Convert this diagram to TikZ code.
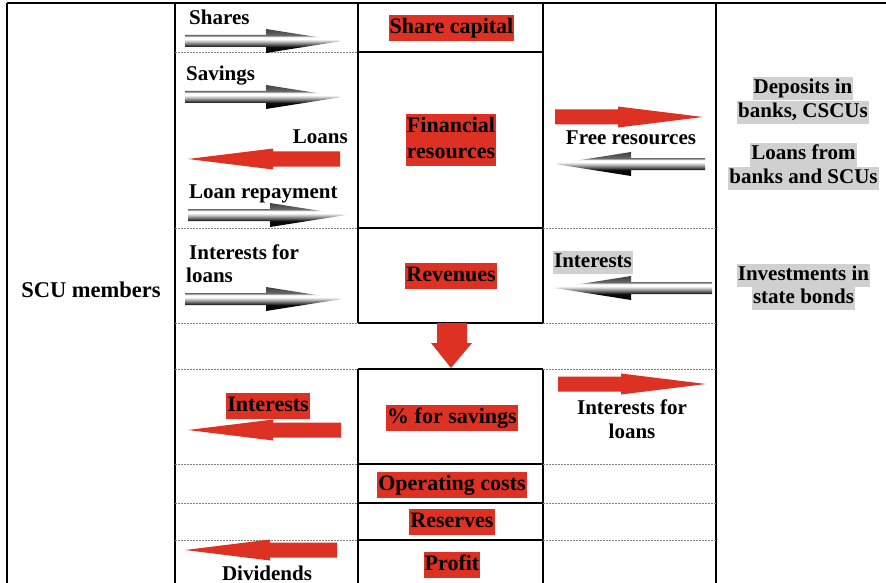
\documentclass[tikz,border=0pt]{standalone}
\usepackage{fontspec}
\setmainfont{Liberation Serif}
\usetikzlibrary{positioning}
\usetikzlibrary{calc}
\definecolor{scu-red}{HTML}{DD3124}
\definecolor{scu-gray}{HTML}{D0D0D0}
\colorlet{rule}{black}
\colorlet{dashrule}{black!50}
% chrome look of the grey arrows (0bp is the bottom)
\pgfdeclareverticalshading{metal}{100bp}{color(0bp)=(black); color(25bp)=(black);
  color(37.5bp)=(black!95); color(44bp)=(black!55); color(50bp)=(black!20);
  color(54bp)=(white); color(58bp)=(white); color(61bp)=(black!45);
  color(62.5bp)=(black!60); color(75bp)=(black!75); color(100bp)=(black!75)}
\newcommand{\tikzblockarrow}[7][]{%
\pgfmathsetmacro{\arrowbase}{#3-sign(#3-#2)*#7}
% shaft and head as one outline
\path[#1] (#2,#4-#5) -- (\arrowbase,#4-#5) -- (\arrowbase,#4-#6) -- (#3,#4)
  -- (\arrowbase,#4+#6) -- (\arrowbase,#4+#5) -- (#2,#4+#5) -- cycle;
}
\newcommand{\tikzredarrow}[3]{%
\tikzblockarrow[fill=scu-red]{#1}{#2}{#3}{7.5}{10.5}{85}
}
\newcommand{\tikzgrayarrow}[3]{%
\tikzblockarrow[shading=metal]{#1}{#2}{#3}{6}{12}{76}
}
\tikzset{
  every node/.style={font=\fontsize{21}{24}\selectfont\bfseries, inner sep=0pt},
  redlabel/.style={fill=scu-red, inner xsep=1pt, inner ysep=2.5pt, text height=16pt, text depth=5pt,
    font=\fontsize{22}{25}\selectfont\bfseries},
  graylabel/.style={fill=scu-gray, inner xsep=1pt, inner ysep=1.5pt, text height=15pt, text depth=5pt},
  cellrule/.style={draw=rule, line width=1.2pt},
  dashrule/.style={draw=dashrule, line width=0.9pt, dash pattern=on 2pt off 1pt},
}
\begin{document}
\begin{tikzpicture}[x=1pt, y=-1pt]
\useasboundingbox (0,0) rectangle (886,583);
% frame and columns
\draw[cellrule] (7,3) -- (886,3);
\foreach \x in {7,175,716} {
  \draw[cellrule] (\x,3) -- (\x,583);
}
\draw[cellrule] (358,3) -- (358,323) (543,3) -- (543,323);
\draw[cellrule] (358,369) -- (358,583) (543,369) -- (543,583);
% row separators
\draw[dashrule] (175,52) -- (358,52);
\draw[cellrule] (358,52) -- (543,52);
\foreach \y in {228,323,369,464,503,540} {
  \draw[dashrule] (175,\y) -- (358,\y);
  \draw[cellrule] (358,\y) -- (543,\y);
  \draw[dashrule] (543,\y) -- (716,\y);
}

% members
\node[font=\fontsize{22.5}{26}\selectfont\bfseries] (members) at (91,290) {SCU members};

% left column
\node[anchor=base west] (shares) at (189,25) {Shares};
\tikzgrayarrow{185}{342}{41}
\node[anchor=base west] (savings) at (186,81) {Savings};
\tikzgrayarrow{185}{342}{97}
\node[anchor=base east] (loans) at (348,143) {Loans};
\tikzredarrow{340}{188}{159}
\node[anchor=base west] (repay) at (189,198) {Loan repayment};
\tikzgrayarrow{188}{346}{215}
\node[anchor=base west] (intloan1) at (189,259) {Interests for};
\node[anchor=base west] (intloan2) at (186,282) {loans};
\tikzgrayarrow{185}{342}{299}
\node[redlabel] (intpaid) at (268,406) {Interests};
\tikzredarrow{341}{188}{430}
\tikzredarrow{337}{185}{550}
\node[anchor=base] (dividends) at (267,580) {Dividends};

% middle column
\node[redlabel] (capital) at (451.5,28.5) {Share capital};
\node[redlabel] (fin1) at (451,127) {Financial};
\node[redlabel, below=0pt of fin1] (fin2) {resources};
\node[redlabel] (revenues) at (451,275.5) {Revenues};
\fill[scu-red] (437,323) -- (467,323) -- (467,343) -- (472,343) -- (451,368)
  -- (431,343) -- (437,343) -- cycle;
\node[redlabel] (savpct) at (452,418) {\% for savings};
\node[redlabel] (opcosts) at (452,485) {Operating costs};
\node[redlabel] (reserves) at (452,522) {Reserves};
\node[redlabel] (profit) at (452,565) {Profit};

% right column
\tikzredarrow{555}{703}{117}
\node[anchor=base] (free) at (631,145) {Free resources};
\tikzgrayarrow{705}{555}{164}
\node[graylabel] (intrecv) at (593,262) {Interests};
\tikzgrayarrow{712}{555}{288}
\tikzredarrow{558}{706}{384}
\node[anchor=base] (intout1) at (632,414) {Interests for};
\node[anchor=base] (intout2) at (632,438) {loans};

% outside partners
\node[graylabel] (dep1) at (803,89) {Deposits in};
\node[graylabel, below=0pt of dep1] (dep2) {banks, CSCUs};
\node[graylabel] (borrow1) at (803.5,155) {Loans from};
\node[graylabel, below=0pt of borrow1] (borrow2) {banks and SCUs};
\node[graylabel] (bonds1) at (803.5,275) {Investments in};
\node[graylabel, below=0pt of bonds1] (bonds2) {state bonds};
\end{tikzpicture}
\end{document}
